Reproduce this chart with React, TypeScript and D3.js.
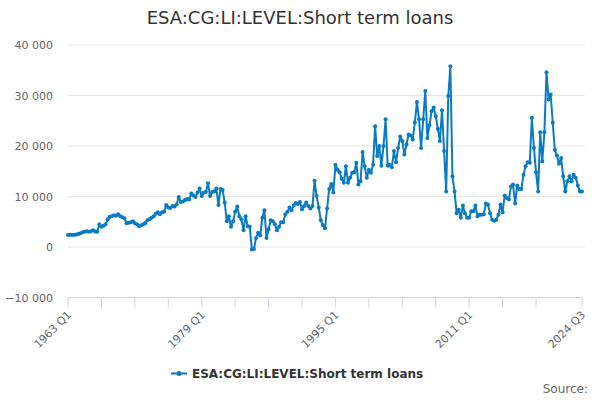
import React from "react";
import * as d3 from "d3";

const title = "ESA:CG:LI:LEVEL:Short term loans";
const seriesName = "ESA:CG:LI:LEVEL:Short term loans";
const startYear = 1963;
const yTicks = [-10000, 0, 10000, 20000, 30000, 40000];

const values1963to1994 = [
  2400, 2450, 2400, 2450, 2500, 2550, 2700, 2900, 3000, 3100, 3000, 3100, 3300, 3050, 3000, 4500,
  4000, 4200, 4500, 5500, 6000, 6100, 6300, 6200, 6500, 6100, 5900, 5700, 4700, 4800, 4900, 5100,
  4700, 4500, 4100, 4300, 4500, 4700, 5300, 5500, 5800, 6100, 6600, 6900, 6500, 6900, 7000, 8300,
  7800, 7700, 8100, 8000, 8400, 9900, 8900, 9000, 9300, 9500, 9400, 10600, 10200, 9900, 10800, 11600,
  10100, 10800, 10900, 12600, 10100, 10900, 11000, 11600, 8300, 11500, 11300, 8800, 5100, 6100, 4000, 5100,
  7000, 8000, 6100, 5500, 3300, 6100, 4100, 4000, -500, -400, 1800, 2800, 2300, 5800, 7300, 1800,
  3500, 5300, 5100, 4500, 3300, 4000, 4900, 4900, 6500, 7000, 7800, 7300, 8200, 8700, 8500, 8900,
  7500, 8100, 8800, 8100, 7600, 8100, 13100, 10100, 7800, 5300, 4300, 3700, 7600, 11500, 12500, 10800,
];

const values1995to2008 = [
  16300, 15300, 14800, 13500, 12700, 16000, 12700, 13700, 14700, 14800, 16700, 12400, 13000, 18800, 16000, 13700,
  15300, 14700, 16300, 23900, 18000, 20000, 16100, 20000, 25300, 16100, 16300, 15800, 19000, 16800, 19600, 21900,
  21000, 18300, 20300, 22300, 22100, 21300, 24700, 28700, 25300, 19600, 25300, 30900, 21600, 24100, 26900, 27600,
  25900, 23400, 21000, 27100, 19000, 11000, 29900, 35800,
];

const values2009to2024 = [
  14000, 11000, 6700, 7400, 5800, 8200, 6700, 5800, 5800, 7100, 7100, 8200, 6100, 6400, 6400, 6500,
  8600, 8400, 6700, 5400, 5200, 5400, 6400, 8400, 6900, 10200, 9700, 9400, 12000, 12400, 8600, 12200,
  11500, 11500, 14300, 16000, 16800, 16700, 25600, 19600, 14800, 11000, 22700, 17000, 22700, 34600, 29200, 30200,
  24600, 19200, 18100, 16500, 17600, 14000, 11000, 13000, 14000, 13000, 14300, 13700, 12200, 11000, 11000,
];

const values = [...values1963to1994, ...values1995to2008, ...values2009to2024];
const categories = values.map((_, i) => `${startYear + Math.floor(i / 4)} Q${(i % 4) + 1}`);
const labelIndices = [0, 64, 128, 192, values.length - 1];
const tickIndices = [...d3.range(0, values.length - 16, 16), values.length - 1];

const W = 600;
const H = 400;
const left = 68;
const right = 582;
const top = 45;
const bottom = 297.5;
const color = "#0a7bc1";
const font = "DejaVu Sans, Verdana, sans-serif";

const fmt = (v: number) => d3.format(",")(v).replace(/,/g, "\u00a0");

export default function App() {
  const x = d3.scaleLinear().domain([0, values.length - 1]).range([left, right]);
  const y = d3.scaleLinear().domain([-10000, 40000]).range([bottom, top]);
  const line = d3
    .line<number>()
    .x((_, i) => x(i))
    .y((d) => y(d));

  return (
    <svg width={W} height={H} style={{ display: "block", position: "absolute", left: 0, top: 0, fontFamily: font }}>
      <rect width={W} height={H} fill="#fff" />
      <text x={300} y={24} textAnchor="middle" fontSize={18} fill="#333">
        {title}
      </text>
      {yTicks.map((t) => (
        <g key={t}>
          {t !== -10000 && (
            <line x1={left} x2={right + 3} y1={y(t)} y2={y(t)} stroke="#e6e6e6" strokeWidth={1} />
          )}
          <text x={53} y={y(t) + 4} textAnchor="end" fontSize={11} fill="#666">
            {fmt(t)}
          </text>
        </g>
      ))}
      <line x1={left} x2={right} y1={bottom} y2={bottom} stroke="#ccd6eb" strokeWidth={1} />
      {tickIndices.map((i) => (
        <line key={i} x1={x(i)} x2={x(i)} y1={bottom} y2={bottom + 10} stroke="#ccd6eb" strokeWidth={1} />
      ))}
      {labelIndices.map((i) => (
        <text
          key={i}
          transform={`translate(${x(i) + 4},${bottom + 18}) rotate(-45)`}
          textAnchor="end"
          fontSize={11}
          fill="#666"
        >
          {categories[i]}
        </text>
      ))}
      <path d={line(values) || ""} fill="none" stroke={color} strokeWidth={2} strokeLinejoin="round" />
      {values.map((v, i) => (
        <circle key={i} cx={x(i)} cy={y(v)} r={2} fill={color} />
      ))}
      <g>
        <line x1={171} x2={187} y1={373.5} y2={373.5} stroke={color} strokeWidth={2} />
        <circle cx={179} cy={373.5} r={2.5} fill={color} />
        <text x={192} y={378} fontSize={12} fontWeight="bold" fill="#333">
          {seriesName}
        </text>
      </g>
      <text x={588} y={393} textAnchor="end" fontSize={12} fill="#666">
        Source:
      </text>
    </svg>
  );
}
